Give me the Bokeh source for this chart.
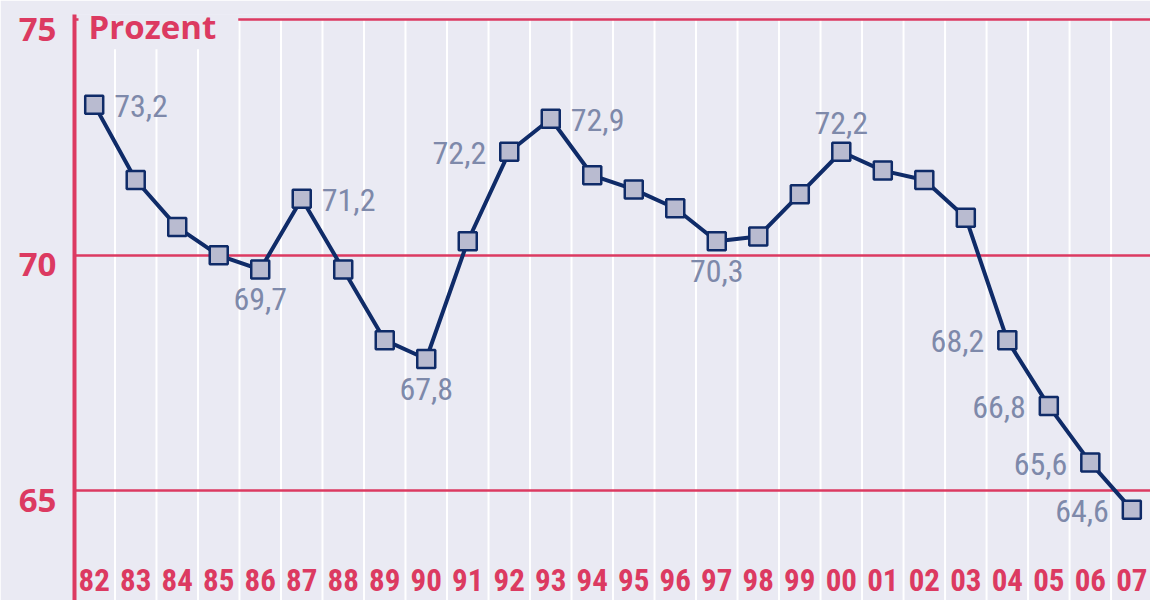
from bokeh.plotting import figure
from bokeh.models import FixedTicker, Range1d, ColumnDataSource, Label
from bokeh.core.properties import value
from bokeh.embed import file_html
from bokeh.resources import INLINE

# ---- data ----
years = ["82", "83", "84", "85", "86", "87", "88", "89", "90", "91", "92", "93", "94",
         "95", "96", "97", "98", "99", "00", "01", "02", "03", "04", "05", "06", "07"]
values = [73.2, 71.6, 70.6, 70.0, 69.7, 71.2, 69.7, 68.2, 67.8, 70.3, 72.2, 72.9, 71.7,
          71.4, 71.0, 70.3, 70.4, 71.3, 72.2, 71.8, 71.6, 70.8, 68.2, 66.8, 65.6, 64.6]
label_years = ["82", "86", "87", "90", "92", "93", "97", "00", "04", "05", "06", "07"]
y_ticks = [65, 70, 75]
unit_label = "Prozent"

# ---- label placement (style) ----
label_side = {"82": "right", "86": "below", "87": "right", "90": "below", "92": "left",
              "93": "right", "97": "below", "00": "above", "04": "left", "05": "left",
              "06": "left", "07": "left"}
side_style = {
    "right": dict(align="left", dx=20, dy=1),
    "left": dict(align="right", dx=-23, dy=1),
    "below": dict(align="center", dx=0, dy=30),
    "above": dict(align="center", dx=0, dy=-29),
}

BG = "#eaeaf3"
RED = "#dc3a61"
NAVY = "#0f2b68"
FILL = "#b9bbd0"
LABEL = "#7e89aa"
NUMFONT = "'Roboto Condensed', 'Liberation Sans Narrow', Roboto"

xs = list(range(len(years)))
x_start, x_end = -0.475, 25.45
y_start, y_end = 62.672, 75.114
label_shift = 0.2  # moves the axis tick labels a few pixels below their grid lines

p = figure(width=1150, height=600, output_backend="svg", toolbar_location=None,
           x_range=Range1d(x_start, x_end), y_range=Range1d(y_start, y_end),
           x_axis_location=None, min_border_left=74, min_border_right=0,
           min_border_top=14, min_border_bottom=0)
p.background_fill_color = BG
p.border_fill_color = BG
p.outline_line_color = None
p.xgrid.grid_line_color = None
p.extra_y_ranges = {"labels": Range1d(y_start + label_shift, y_end + label_shift)}

# horizontal red grid lines
p.ygrid.ticker = FixedTicker(ticks=y_ticks)
p.ygrid.grid_line_color = RED
p.ygrid.grid_line_width = 2.5

# left axis
ax = p.yaxis[0]
ax.y_range_name = "labels"
ax.ticker = FixedTicker(ticks=y_ticks)
ax.axis_line_color = RED
ax.axis_line_width = 4
ax.major_tick_line_color = None
ax.minor_tick_line_color = None
ax.major_tick_out = 0
ax.major_tick_in = 0
ax.major_label_standoff = 18
ax.major_label_text_color = RED
ax.major_label_text_font = "Open Sans"
ax.major_label_text_font_style = "bold"
ax.major_label_text_font_size = "33px"

# white vertical separators between years
mids = [x + 0.5 for x in xs]
p.segment(x0=mids, y0=[y_start] * len(mids), x1=mids, y1=[max(y_ticks)] * len(mids),
          line_color="white", line_width=2, level="image")

# data line + markers
src = ColumnDataSource(dict(x=xs, y=values))
p.line("x", "y", source=src, line_color=NAVY, line_width=4)
p.scatter("x", "y", source=src, marker="square", size=18, fill_color=FILL,
          line_color=NAVY, line_width=2.5)

# value labels
lx, ly, lt, la, ldx, ldy = [], [], [], [], [], []
for yr in label_years:
    i = years.index(yr)
    st = side_style[label_side[yr]]
    lx.append(i)
    ly.append(values[i])
    lt.append(f"{values[i]:.1f}".replace(".", ","))
    la.append(st["align"])
    ldx.append(st["dx"])
    ldy.append(st["dy"])
lsrc = ColumnDataSource(dict(x=lx, y=ly, t=lt, a=la, dx=ldx, dy=ldy))
p.text("x", "y", text="t", source=lsrc, text_align="a", text_baseline="alphabetic",
       x_offset="dx", y_offset="dy", text_color=LABEL, text_font=value(NUMFONT),
       text_font_size="32px")

# year labels along the bottom
ysrc = ColumnDataSource(dict(x=xs, y=[y_start] * len(xs), t=years))
p.text("x", "y", text="t", source=ysrc, text_align="center", text_baseline="alphabetic",
       y_offset=-21, text_color=RED, text_font=value(NUMFONT), text_font_style="bold",
       text_font_size="31px")

# unit label with background masking grid
lab = Label(x=x_start, y=max(y_ticks), x_offset=4, y_offset=-2, text=unit_label,
            text_baseline="alphabetic", text_color=RED, text_font="Open Sans",
            text_font_style="bold", text_font_size="33px",
            background_fill_color=BG,
            padding=dict(left=10, right=22, top=10, bottom=0))
p.add_layout(lab)

open("out.html", "w").write(file_html(p, INLINE))
